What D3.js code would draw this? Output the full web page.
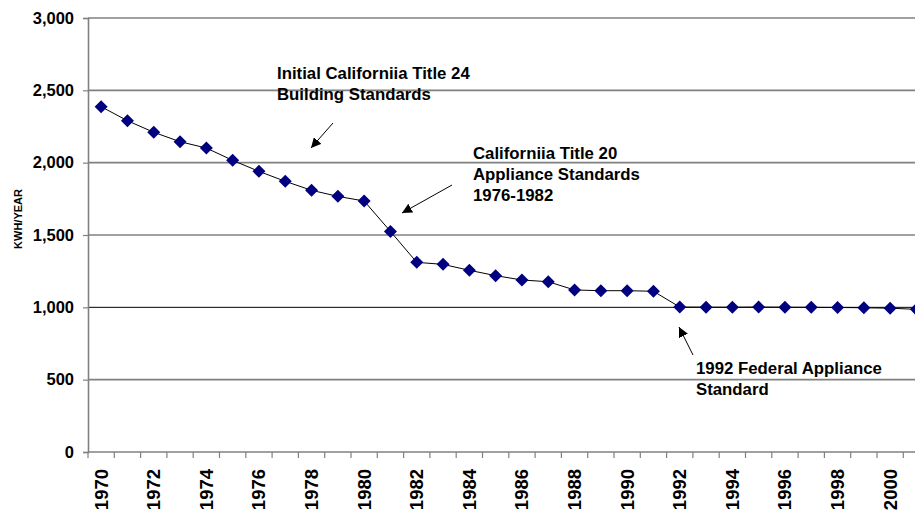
<!DOCTYPE html>
<html>
<head>
<meta charset="utf-8">
<script src="https://cdn.jsdelivr.net/npm/d3@7"></script>
<style>
  html, body { margin: 0; padding: 0; background: #fff; overflow: hidden; }
  svg { display: block; font-family: "Liberation Sans", Arial, sans-serif; font-weight: bold; }
</style>
</head>
<body>
<svg id="chart" width="915" height="511"></svg>
<script>
const years = d3.range(1970, 2002).map(String);
const kwh = [2387, 2290, 2210, 2145, 2101, 2016, 1940, 1871, 1809, 1767, 1735,
             1525, 1311, 1297, 1256, 1219, 1189, 1177, 1120, 1115, 1115, 1111,
             1002, 1001, 1001, 1002, 1001, 1000, 999, 997, 994, 986];
const yTicks = [0, 500, 1000, 1500, 2000, 2500, 3000];
const xLabels = years.filter((d, i) => i % 2 === 0);
const yAxisTitle = "KWH/YEAR";
const annotations = [
  { lines: ["Initial Californiia Title 24", "Building Standards"], x: 277, y: 78.5, from: [333, 123], to: [311, 148] },
  { lines: ["Californiia Title 20", "Appliance Standards", "1976-1982"], x: 473, y: 158.5, from: [452, 185], to: [402, 213] },
  { lines: ["1992 Federal Appliance", "Standard"], x: 696, y: 373.5, from: [693, 355], to: [679, 327] }
];

const svg = d3.select("#chart");
const plotLeft = 88, plotTop = 18, plotBottom = 452, band = 26.3;
const x = d3.scaleBand().domain(years).range([plotLeft, plotLeft + band * years.length]).padding(0);
const y = d3.scaleLinear().domain([0, 3000]).range([plotBottom, plotTop]);

// gridlines
svg.append("g").selectAll("line").data(yTicks.filter(d => d > 0)).join("line")
  .attr("x1", plotLeft).attr("x2", 915)
  .attr("y1", d => y(d)).attr("y2", d => y(d))
  .attr("stroke", d => d === 1000 ? "#000" : "#808080")
  .attr("stroke-width", d => d === 1000 ? 1 : 1.6);

// y axis
const yAxis = svg.append("g").attr("transform", `translate(${plotLeft},0)`)
  .call(d3.axisLeft(y).tickValues(yTicks).tickSize(5).tickPadding(9).tickFormat(d3.format(",")));
yAxis.select(".domain").attr("stroke", "#808080").attr("stroke-width", 1.6);
yAxis.selectAll(".tick line").attr("stroke", "#808080").attr("stroke-width", 1.2);
yAxis.selectAll(".tick text").attr("font-size", 16.5).attr("font-weight", "bold")
  .attr("font-family", "Liberation Sans, Arial, sans-serif").attr("fill", "#000");

// x axis
const xAxisG = svg.append("g").attr("transform", `translate(0,${plotBottom})`);
xAxisG.append("line").attr("x1", plotLeft).attr("x2", 915).attr("y1", 0).attr("y2", 0)
  .attr("stroke", "#808080").attr("stroke-width", 1.6);
xAxisG.selectAll("line.tk").data(years).join("line").attr("class", "tk")
  .attr("x1", d => x(d)).attr("x2", d => x(d)).attr("y1", 0).attr("y2", 6)
  .attr("stroke", "#808080").attr("stroke-width", 1.2);
xAxisG.selectAll("text").data(xLabels).join("text")
  .attr("transform", d => `translate(${x(d) + x.bandwidth() / 2},17) rotate(-90)`)
  .attr("text-anchor", "end").attr("dy", "0.35em")
  .attr("font-size", 18.5).attr("fill", "#000").text(d => d);

// y title
svg.append("text").attr("transform", "translate(18,219) rotate(-90)")
  .attr("text-anchor", "middle").attr("dy", "0.35em")
  .attr("font-size", 11).text(yAxisTitle);

// line
const pts = years.map((d, i) => [x(d) + x.bandwidth() / 2, y(kwh[i])]);
svg.append("path").attr("d", d3.line()(pts)).attr("fill", "none")
  .attr("stroke", "#000").attr("stroke-width", 1);

// markers
svg.append("g").selectAll("path").data(pts).join("path")
  .attr("d", "M0,-6.5L6.5,0L0,6.5L-6.5,0Z")
  .attr("transform", d => `translate(${d[0]},${d[1]})`)
  .attr("fill", "#000080");

// arrow marker
svg.append("defs").append("marker").attr("id", "ah")
  .attr("viewBox", "0 0 10 10").attr("refX", 10).attr("refY", 5)
  .attr("markerWidth", 10).attr("markerHeight", 10).attr("markerUnits", "userSpaceOnUse")
  .attr("orient", "auto")
  .append("path").attr("d", "M0,0L10,5L0,10Z").attr("fill", "#000");

// annotations
annotations.forEach(a => {
  const t = svg.append("text").attr("x", a.x).attr("y", a.y).attr("font-size", 16.8).attr("fill", "#000");
  a.lines.forEach((l, i) => t.append("tspan").attr("x", a.x).attr("y", a.y + i * 21).text(l));
  svg.append("line").attr("x1", a.from[0]).attr("y1", a.from[1]).attr("x2", a.to[0]).attr("y2", a.to[1])
    .attr("stroke", "#000").attr("stroke-width", 1).attr("marker-end", "url(#ah)");
});
</script>
</body>
</html>
